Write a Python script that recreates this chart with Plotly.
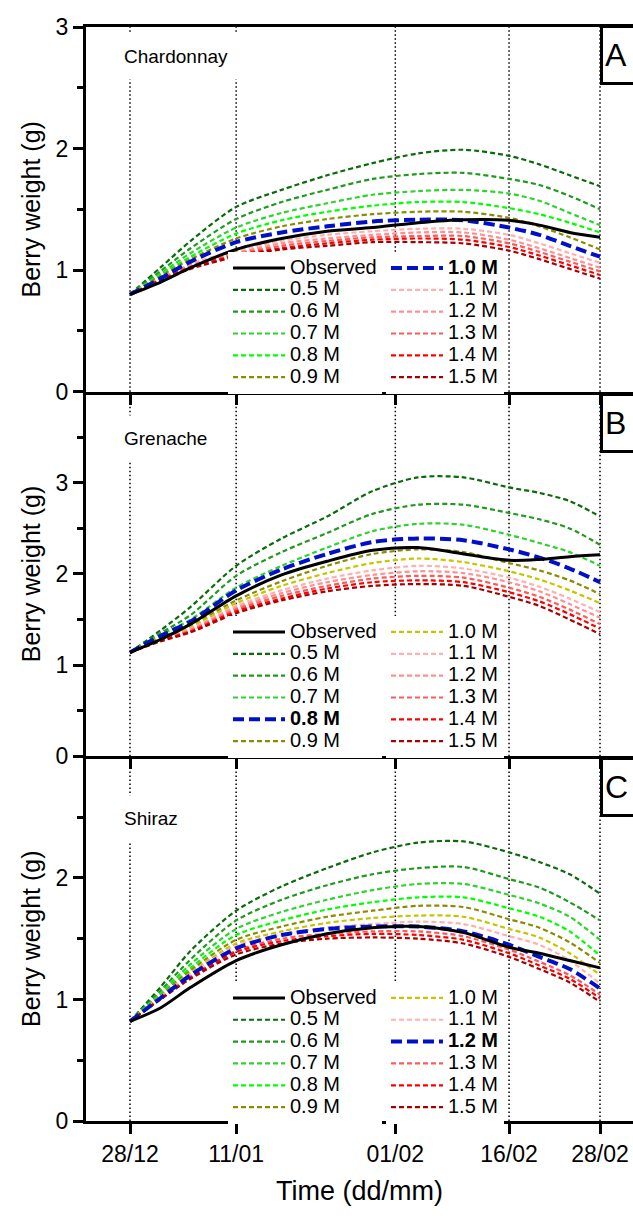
import plotly.graph_objects as go

# ---------------- data ----------------
days = [0, 4, 8, 14, 20, 26, 32, 38, 44, 50, 54, 58, 62]          # days since 28/12
tick_days = [0, 14, 35, 50, 62]
tick_labels = ["28/12", "11/01", "01/02", "16/02", "28/02"]
levels = ["0.5 M", "0.6 M", "0.7 M", "0.8 M", "0.9 M", "1.0 M",
          "1.1 M", "1.2 M", "1.3 M", "1.4 M", "1.5 M"]
varieties = ["Chardonnay", "Grenache", "Shiraz"]
panel_letters = ["A", "B", "C"]
best_level = ["1.0 M", "0.8 M", "1.2 M"]
y_max = [3, 4, 3]

chardonnay_obs = [0.80, 0.90, 1.02, 1.17, 1.26, 1.32, 1.35, 1.39, 1.415, 1.41, 1.37, 1.31, 1.27]
chardonnay_sim = [
    [0.80, 1.02, 1.24, 1.52, 1.66, 1.78, 1.88, 1.96, 1.99, 1.94, 1.87, 1.78, 1.69],
    [0.80, 0.99, 1.18, 1.42, 1.56, 1.66, 1.75, 1.79, 1.80, 1.75, 1.70, 1.61, 1.50],
    [0.80, 0.97, 1.14, 1.35, 1.47, 1.55, 1.62, 1.65, 1.66, 1.63, 1.57, 1.47, 1.37],
    [0.80, 0.96, 1.11, 1.30, 1.41, 1.48, 1.53, 1.56, 1.56, 1.51, 1.46, 1.39, 1.31],
    [0.80, 0.95, 1.09, 1.26, 1.36, 1.42, 1.46, 1.48, 1.48, 1.43, 1.36, 1.27, 1.17],
    [0.80, 0.93, 1.07, 1.23, 1.31, 1.36, 1.40, 1.415, 1.41, 1.35, 1.29, 1.20, 1.11],
    [0.80, 0.93, 1.05, 1.16, 1.24, 1.29, 1.32, 1.34, 1.34, 1.29, 1.22, 1.14, 1.06],
    [0.80, 0.93, 1.04, 1.14, 1.22, 1.26, 1.29, 1.31, 1.31, 1.25, 1.18, 1.10, 1.02],
    [0.80, 0.92, 1.03, 1.13, 1.20, 1.24, 1.27, 1.28, 1.28, 1.22, 1.15, 1.07, 0.99],
    [0.80, 0.92, 1.02, 1.12, 1.18, 1.22, 1.25, 1.26, 1.25, 1.19, 1.12, 1.04, 0.96],
    [0.80, 0.91, 1.01, 1.11, 1.17, 1.20, 1.23, 1.23, 1.22, 1.16, 1.09, 1.01, 0.93],
]

grenache_obs = [1.14, 1.28, 1.45, 1.76, 1.99, 2.14, 2.26, 2.29, 2.22, 2.15, 2.16, 2.19, 2.21]
grenache_sim = [
    [1.14, 1.38, 1.64, 2.09, 2.39, 2.63, 2.91, 3.06, 3.06, 2.95, 2.89, 2.80, 2.63],
    [1.14, 1.35, 1.55, 1.98, 2.24, 2.45, 2.66, 2.76, 2.76, 2.67, 2.60, 2.50, 2.32],
    [1.14, 1.33, 1.50, 1.85, 2.09, 2.29, 2.47, 2.55, 2.54, 2.43, 2.34, 2.24, 2.09],
    [1.14, 1.32, 1.48, 1.82, 2.05, 2.22, 2.35, 2.39, 2.37, 2.27, 2.18, 2.06, 1.91],
    [1.14, 1.30, 1.44, 1.71, 1.92, 2.09, 2.22, 2.27, 2.24, 2.12, 2.04, 1.93, 1.78],
    [1.14, 1.29, 1.42, 1.68, 1.87, 2.01, 2.12, 2.17, 2.13, 2.03, 1.94, 1.82, 1.68],
    [1.14, 1.28, 1.40, 1.65, 1.82, 1.95, 2.04, 2.09, 2.06, 1.96, 1.86, 1.73, 1.58],
    [1.14, 1.28, 1.39, 1.63, 1.79, 1.91, 1.99, 2.03, 2.01, 1.91, 1.81, 1.67, 1.52],
    [1.14, 1.27, 1.38, 1.61, 1.76, 1.87, 1.95, 1.98, 1.96, 1.85, 1.75, 1.61, 1.45],
    [1.14, 1.27, 1.37, 1.59, 1.73, 1.84, 1.91, 1.93, 1.91, 1.80, 1.70, 1.56, 1.40],
    [1.14, 1.26, 1.36, 1.57, 1.71, 1.81, 1.87, 1.89, 1.87, 1.75, 1.65, 1.50, 1.34],
]

shiraz_obs = [0.82, 0.93, 1.10, 1.32, 1.45, 1.54, 1.59, 1.60, 1.55, 1.43, 1.38, 1.32, 1.26]
shiraz_sim = [
    [0.82, 1.10, 1.40, 1.73, 1.93, 2.08, 2.21, 2.29, 2.30, 2.21, 2.13, 2.03, 1.87],
    [0.82, 1.07, 1.33, 1.65, 1.82, 1.94, 2.03, 2.08, 2.09, 1.99, 1.92, 1.80, 1.65],
    [0.82, 1.05, 1.29, 1.58, 1.72, 1.82, 1.90, 1.95, 1.95, 1.86, 1.79, 1.68, 1.49],
    [0.82, 1.04, 1.26, 1.53, 1.65, 1.74, 1.80, 1.84, 1.84, 1.75, 1.68, 1.56, 1.36],
    [0.82, 1.03, 1.24, 1.49, 1.60, 1.68, 1.73, 1.77, 1.76, 1.66, 1.59, 1.47, 1.30],
    [0.82, 1.02, 1.22, 1.46, 1.56, 1.63, 1.67, 1.69, 1.68, 1.58, 1.51, 1.38, 1.20],
    [0.82, 1.02, 1.21, 1.44, 1.53, 1.59, 1.62, 1.64, 1.62, 1.52, 1.45, 1.32, 1.13],
    [0.82, 1.01, 1.20, 1.42, 1.53, 1.58, 1.60, 1.60, 1.56, 1.45, 1.35, 1.25, 1.09],
    [0.82, 1.01, 1.19, 1.40, 1.50, 1.54, 1.56, 1.56, 1.52, 1.41, 1.31, 1.20, 1.04],
    [0.82, 1.00, 1.18, 1.39, 1.48, 1.52, 1.54, 1.53, 1.49, 1.38, 1.28, 1.17, 1.01],
    [0.82, 1.00, 1.17, 1.37, 1.46, 1.50, 1.51, 1.50, 1.46, 1.35, 1.25, 1.14, 0.98],
]

observed = [chardonnay_obs, grenache_obs, shiraz_obs]
simulated = [chardonnay_sim, grenache_sim, shiraz_sim]

# ---------------- style ----------------
level_colors = ["#0b6b0b", "#1f9a1f", "#2fd22f", "#00ff00", "#8c8c00", "#c8c400",
                "#ffb0b0", "#ff9090", "#ff5a5a", "#ff0000", "#a80000"]
best_color = "#0010c8"
FONT = "Liberation Sans, Arial, sans-serif"
SPAN = '<span style="font-size:20px">{}</span>'

fig = go.Figure()
x_names = ["x", "x2", "x3"]
y_names = ["y", "y2", "y3"]

for p in range(3):
    leg1 = "legend" if p == 0 else f"legend{2 * p + 1}"
    leg2 = f"legend{2 * p + 2}"
    order = [i for i, lv in enumerate(levels) if lv != best_level[p]] + \
            [levels.index(best_level[p])]
    for i in order:
        lv = levels[i]
        best = lv == best_level[p]
        name = SPAN.format(f"<b>{lv}</b>" if best else lv)
        fig.add_trace(go.Scatter(
            x=days, y=simulated[p][i], mode="lines", name=name,
            xaxis=x_names[p], yaxis=y_names[p],
            legend=leg1 if i < 5 else leg2, legendrank=10 + i,
            line=dict(color=best_color if best else level_colors[i],
                      width=4 if best else 2.2,
                      dash="11px,5px" if best else "5px,3px",
                      shape="spline", smoothing=0.8),
            hoverinfo="skip"))
    fig.add_trace(go.Scatter(
        x=days, y=observed[p], mode="lines", name=SPAN.format("Observed"),
        xaxis=x_names[p], yaxis=y_names[p], legend=leg1, legendrank=1,
        line=dict(color="black", width=3, shape="spline", smoothing=0.8),
        hoverinfo="skip"))

# ---------------- layout ----------------
L, R, T, B = 86, 0, 27, 104
W, H = 633, 1225
pw = W - L - R
k = (600 - 130) / 62.0
x0 = -(130 - L) / k
x_range = [x0, x0 + pw / k]

domains = [[2 / 3, 1], [1 / 3, 2 / 3], [0, 1 / 3]]
layout = dict(width=W, height=H, margin=dict(l=L, r=R, t=T, b=B),
              paper_bgcolor="white", plot_bgcolor="white", showlegend=True,
              font=dict(family=FONT, color="black"))

for p in range(3):
    xs = "xaxis" if p == 0 else f"xaxis{p + 1}"
    ys = "yaxis" if p == 0 else f"yaxis{p + 1}"
    layout[xs] = dict(
        domain=[0, 1], anchor=y_names[p], range=x_range, tickmode="array",
        tickvals=tick_days, ticktext=tick_labels, showticklabels=(p == 2),
        ticks="outside", ticklen=10, tickwidth=3, tickcolor="black",
        ticklabeloverflow="allow",
        showline=True, linecolor="black", linewidth=3, mirror=(p == 0),
        showgrid=False, zeroline=False,
        tickfont=dict(family=FONT, size=23, color="black"))
    if p == 2:
        layout[xs]["title"] = dict(text="Time (dd/mm)", standoff=16,
                                   font=dict(family=FONT, size=27, color="black"))
    tv = [0, 1, 2, 3] if y_max[p] >= 3 and p < 2 else [0, 1, 2]
    layout[ys] = dict(
        domain=domains[p], anchor=x_names[p], range=[0, y_max[p]],
        tickmode="array", tickvals=tv, ticktext=[str(v) for v in tv],
        ticks="outside", ticklen=10, tickwidth=3, tickcolor="black",
        minor=dict(tickmode="linear", tick0=0, dtick=0.5, ticks="outside",
                   ticklen=6, tickwidth=3, tickcolor="black"),
        showline=True, linecolor="black", linewidth=3, showgrid=False, zeroline=False,
        tickfont=dict(family=FONT, size=23, color="black"),
        title=dict(text="Berry weight (g)", standoff=8,
                   font=dict(family=FONT, size=25, color="black")))
    # right-hand inner ticks
    rs = f"yaxis{p + 4}"
    layout[rs] = dict(
        overlaying=y_names[p], side="right", anchor=x_names[p], range=[0, y_max[p]],
        tickmode="array", tickvals=tv, showticklabels=False,
        ticks="inside", ticklen=7, tickwidth=3, tickcolor="black",
        minor=dict(tickmode="linear", tick0=0, dtick=0.5, ticks="inside",
                   ticklen=3, tickwidth=3, tickcolor="black"),
        showline=False, showgrid=False, zeroline=False)

# legends
leg_x = [0.2596, 0.5484]
leg_y = [0.7943, 0.4616, 0.1271]
for p in range(3):
    for c in range(2):
        idx = 2 * p + c + 1
        key = "legend" if idx == 1 else f"legend{idx}"
        layout[key] = dict(x=leg_x[c], y=leg_y[p], xanchor="left", yanchor="top",
                           bgcolor="white", borderwidth=0, itemwidth=52,
                           tracegroupgap=0, itemclick=False, itemdoubleclick=False,
                           font=dict(family=FONT, size=14.5, color="black"))

fig.update_layout(**layout)

# dotted date lines
for p in range(3):
    for d in tick_days:
        fig.add_shape(type="line", xref=x_names[p], yref=f"{y_names[p]} domain",
                      x0=d, x1=d, y0=0, y1=1, layer="below",
                      line=dict(color="black", width=1.5, dash="1.5px,2.5px"))

# variety labels and panel letters
label_y = [0.918, 0.871, 0.830]
box_y = [1.005, 0.995, 0.997]
for p in range(3):
    fig.add_annotation(text=varieties[p], xref=x_names[p], yref=f"{y_names[p]} domain",
                       x=0, y=label_y[p], xanchor="left", yanchor="middle", xshift=-19,
                       showarrow=False, bgcolor="white", borderpad=12,
                       font=dict(family=FONT, size=19, color="black"))
    fig.add_annotation(text=panel_letters[p], xref=x_names[p], yref=f"{y_names[p]} domain",
                       x=62, y=box_y[p], xanchor="left", yanchor="top",
                       width=60, height=50, align="left", valign="middle",
                       showarrow=False, bgcolor="white", bordercolor="black",
                       borderwidth=3, borderpad=2,
                       font=dict(family=FONT, size=32, color="black"))

fig.write_html("out.html")
